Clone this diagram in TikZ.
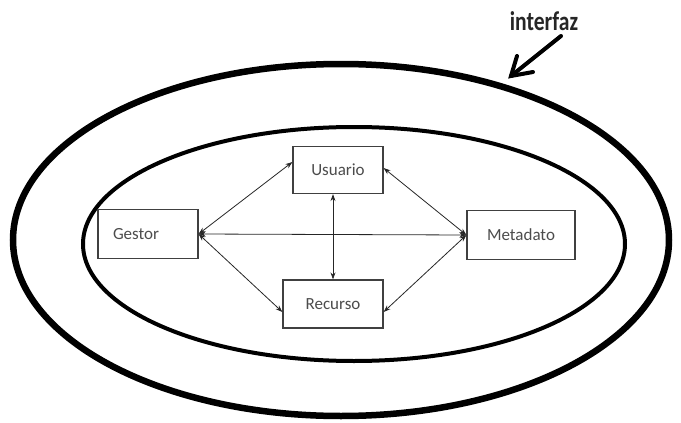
\documentclass[tikz,border=0pt]{standalone}
\usepackage{fontspec}
\setmainfont{Carlito}
\newfontfamily\narrowbold[FakeStretch=0.8]{Carlito Bold}
\usetikzlibrary{arrows.meta}
\begin{document}
\begin{tikzpicture}[x=1pt,y=-1pt,
  boxnode/.style={draw=black!75,line width=1.2pt,fill=white,inner sep=0pt,font=\fontsize{17}{20}\selectfont,text=black!70},
  link/.style={line width=0.8pt,black!85,{Stealth[length=7pt,width=5pt]}-{Stealth[length=7pt,width=5pt]}}]
\useasboundingbox (0,0) rectangle (681,423);
\draw[line width=6.5pt] (341,240) ellipse [x radius=328, y radius=176];
\draw[line width=4pt] (354,244) ellipse [x radius=271, y radius=117];
\node[boxnode,minimum width=90pt,minimum height=47pt] (usu) at (338,170) {Usuario};
\node[boxnode,minimum width=100pt,minimum height=49pt,text width=70pt,align=left] (ges) at (148,234) {Gestor};
\node[boxnode,minimum width=108pt,minimum height=49pt] (met) at (521,235) {Metadato};
\node[boxnode,minimum width=100pt,minimum height=48pt] (rec) at (333,304) {Recurso};
\coordinate (g) at (ges.east);
\coordinate (m) at (met.west);
\draw[link] (g) -- (m);
\draw[link] (g) -- ([yshift=8pt]usu.west);
\draw[link] (g) -- ([yshift=-8pt]rec.west);
\draw[link] ([xshift=-5pt]usu.south) -- ([xshift=0pt]rec.north);
\draw[link] (m) -- ([yshift=2pt]usu.east);
\draw[link] (m) -- ([yshift=-8pt]rec.east);
\node[font=\fontsize{27}{30}\narrowbold,text=black!85] (lbl) at (544,21) {interfaz};
\coordinate (tip) at (511,76);
\draw[line width=4pt,line cap=round] (561,36) -- (tip);
\draw[line width=4pt,line cap=round,line join=miter] (517,56) -- (tip) -- (533,72);
\end{tikzpicture}
\end{document}
